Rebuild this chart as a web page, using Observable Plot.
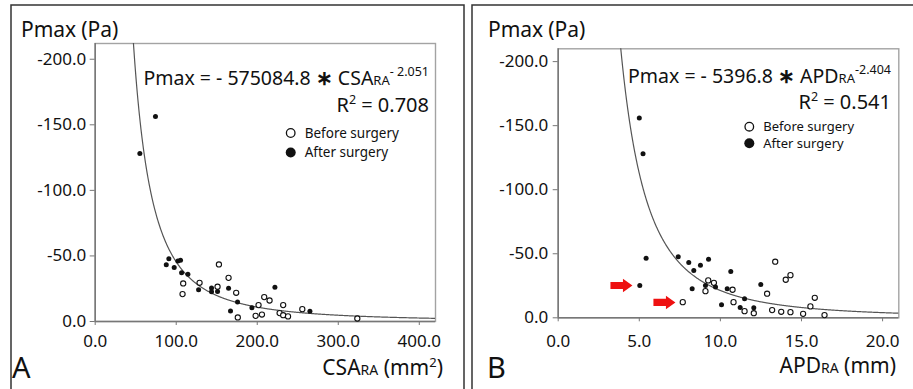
<!DOCTYPE html>
<html><head><meta charset="utf-8">
<script src="https://cdn.jsdelivr.net/npm/d3@7"></script>
<script src="https://cdn.jsdelivr.net/npm/@observablehq/plot@0.6"></script>
<style>
body{margin:0;background:#fff;}
#root{position:relative;width:913px;height:389px;overflow:hidden;background:#fff;}
#root > div{position:absolute;top:0;}
#overlay{position:absolute;left:0;top:0;pointer-events:none;}
text{font-family:"Noto Sans",sans-serif;fill:#111;}
</style></head>
<body>
<div id="root">
  <div id="pA" style="left:0"></div>
  <div id="pB" style="left:456px"></div>
  <svg id="overlay" width="913" height="389"></svg>
</div>
<script>
// ---------- Data ----------
// Panel A: CSA_RA (mm^2) vs Pmax (Pa)
const csaBefore  = [108.6,107.8,128.8,151.0,152.7,164.6,174.0,176.0,198.0,201.6,205.8,208.6,215.2,227.6,232.0,232.0,238.0,255.6,323.5];
const pmaxCsaBefore = [-29.0,-20.9,-29.5,-26.5,-43.5,-33.3,-21.9,-3.1,-4.3,-12.5,-5.3,-18.6,-16.0,-6.4,-12.5,-4.8,-3.9,-9.4,-2.3];
const csaAfter   = [55.1,74.4,87.7,90.9,97.5,102.0,105.3,106.6,114.4,127.6,143.6,143.6,151.0,164.6,167.0,175.7,193.4,221.8,265.0];
const pmaxCsaAfter = [-128.2,-156.3,-43.3,-47.8,-41.2,-46.1,-46.8,-37.2,-36.1,-24.2,-25.5,-22.7,-22.9,-25.4,-8.1,-14.8,-10.4,-26.2,-7.9];
// Panel B: APD_RA (mm) vs Pmax (Pa)
const apdBefore  = [7.68,9.08,9.25,9.60,10.75,10.81,11.49,12.06,12.88,13.19,13.38,13.75,14.03,14.32,14.32,15.10,15.55,15.82,16.42];
const pmaxApdBefore = [-12.2,-20.8,-29.2,-27.3,-21.9,-12.2,-5.2,-3.6,-18.8,-6.0,-43.8,-4.7,-29.7,-33.3,-4.4,-3.1,-8.9,-15.6,-2.1];
const apdAfter   = [5.00,5.23,5.03,5.42,7.40,8.05,8.26,8.36,8.77,9.27,9.08,9.70,10.07,10.42,10.64,11.22,11.49,12.06,12.49];
const pmaxApdAfter = [-155.9,-128.1,-25.3,-46.4,-47.7,-43.2,-22.7,-37.0,-41.1,-45.8,-25.3,-24.0,-10.2,-22.7,-36.2,-8.1,-14.8,-7.8,-26.0];
// Fitted power curves stated on the figure: Pmax = coef * x^exp
const fitCoefA = -575084.8, fitExpA = -2.051;
const fitCoefB = -5396.8,   fitExpB = -2.404;
// Red arrows in panel B (pointing at two patients)
const arrowApd  = [3.9, 6.55];
const arrowPmax = [-25.2, -12.0];
// Tick values
const yTicks  = [-200, -150, -100, -50, 0];
const xTicksA = [0, 100, 200, 300, 400];
const xTicksB = [0, 5, 10, 15, 20];

// ---------- Helpers ----------
const fmt = d => d.toFixed(1);
const pts = (xs, ys) => xs.map((x, i) => ({x, y: ys[i]}));
const blockArrow = {
  draw(ctx) {
    ctx.moveTo(-11, -3.6); ctx.lineTo(1.5, -3.6); ctx.lineTo(1.5, -6.8);
    ctx.lineTo(11, 0); ctx.lineTo(1.5, 6.8); ctx.lineTo(1.5, 3.6);
    ctx.lineTo(-11, 3.6); ctx.closePath();
  }
};

function panel({xDomain, yDomain, xTicks, before, after, curve, margins, xPad, yPad, extra = []}) {
  return Plot.plot({
    width: margins.w, height: 389,
    marginLeft: margins.l, marginRight: margins.r, marginTop: margins.t, marginBottom: margins.b,
    style: {fontFamily: "Noto Sans, sans-serif", background: "transparent"},
    x: {domain: xDomain, axis: null},
    y: {domain: yDomain, axis: null},
    marks: [
      Plot.frame({stroke: "#a3a3a3", strokeWidth: 1.4}),
      Plot.axisX({ticks: xTicks, tickFormat: fmt, tickSize: 4, tickPadding: xPad, stroke: "#777", fill: "#222", fontSize: 17, label: null}),
      Plot.axisY({ticks: yTicks, tickFormat: fmt, tickSize: 5, tickPadding: yPad, stroke: "#777", fill: "#222", fontSize: 17, label: null}),
      Plot.ruleY([0], {stroke: "#777", strokeWidth: 1.5}),
      Plot.ruleX([0], {stroke: "#777", strokeWidth: 1.5}),
      Plot.line(curve, {x: "x", y: "y", stroke: "#555", strokeWidth: 1.2, clip: true}),
      Plot.dot(before, {x: "x", y: "y", r: 2.6, stroke: "#111", strokeWidth: 1.1, fill: "white"}),
      Plot.dot(after, {x: "x", y: "y", r: 2.5, fill: "#111", stroke: "none"}),
      ...extra
    ]
  });
}

const curveXA = d3.range(40, 421, 0.5);
const curveA = curveXA.map(x => ({x, y: fitCoefA * Math.pow(x, fitExpA)}));
const curveXB = d3.range(3.5, 21.01, 0.02);
const curveB = curveXB.map(x => ({x, y: fitCoefB * Math.pow(x, fitExpB)}));

document.getElementById("pA").append(panel({
  xDomain: [0, 420], yDomain: [0, -212], xTicks: xTicksA,
  before: pts(csaBefore, pmaxCsaBefore), after: pts(csaAfter, pmaxCsaAfter), curve: curveA,
  margins: {w: 456, l: 94.7, r: 21, t: 43, b: 68}, xPad: 9, yPad: 4
}));
document.getElementById("pB").append(panel({
  xDomain: [0, 21], yDomain: [0, -210], xTicks: xTicksB,
  before: pts(apdBefore, pmaxApdBefore), after: pts(apdAfter, pmaxApdAfter), curve: curveB,
  margins: {w: 457, l: 101.7, r: 14.7, t: 48.3, b: 71.7}, xPad: 13, yPad: 5,
  extra: [Plot.dot(pts(arrowApd, arrowPmax), {x: "x", y: "y", symbol: blockArrow, r: 10, fill: "#ee1111", stroke: "none"})]
}));

// ---------- Text overlay ----------
const ov = d3.select("#overlay");
ov.append("rect").attr("x", 11).attr("y", 5).attr("width", 453).attr("height", 420)
  .attr("fill", "none").attr("stroke", "#333").attr("stroke-width", 1.5);
ov.append("rect").attr("x", 472).attr("y", 5).attr("width", 460).attr("height", 420)
  .attr("fill", "none").attr("stroke", "#333").attr("stroke-width", 1.5);

function yLabel(x) {
  const t = ov.append("text").attr("x", x).attr("y", 37).attr("font-size", 21);
  t.append("tspan").text("Pmax");
  t.append("tspan").attr("dx", 5).text("(Pa)");
}
function equation(xEnd, y, coefText, varName, expText) {
  const t = ov.append("text").attr("x", xEnd).attr("y", y).attr("text-anchor", "end").attr("font-size", 19.5);
  t.append("tspan").text("Pmax = - " + coefText + " ");
  t.append("tspan").attr("font-weight", "bold").text("\u2217");
  t.append("tspan").text(" " + varName);
  t.append("tspan").attr("font-size", 13).text("RA");
  t.append("tspan").attr("font-size", 12.5).attr("dy", -9).text(expText);
}
function r2(xEnd, y, val) {
  const t = ov.append("text").attr("x", xEnd).attr("y", y).attr("text-anchor", "end").attr("font-size", 20);
  t.append("tspan").text("R");
  t.append("tspan").attr("font-size", 12.5).attr("dy", -8).text("2");
  t.append("tspan").attr("dy", 8).text(" = " + val);
}
function legend(cx, y1, y2, fs) {
  ov.append("circle").attr("cx", cx).attr("cy", y1).attr("r", 4.3).attr("fill", "white").attr("stroke", "#111").attr("stroke-width", 1.3);
  ov.append("circle").attr("cx", cx).attr("cy", y2).attr("r", 5).attr("fill", "#111");
  ov.append("text").attr("x", cx + 14).attr("y", y1 + 4.5).attr("font-size", fs).text("Before surgery");
  ov.append("text").attr("x", cx + 14).attr("y", y2 + 4.5).attr("font-size", fs).text("After surgery");
}
function xLabel(xEnd, y, name, unit, sup) {
  const t = ov.append("text").attr("x", xEnd).attr("y", y).attr("text-anchor", "end").attr("font-size", 21);
  t.append("tspan").text(name);
  t.append("tspan").attr("font-size", 14).text("RA");
  t.append("tspan").text(" (" + unit);
  if (sup) {
    t.append("tspan").attr("font-size", 13).attr("dy", -8).text(sup);
    t.append("tspan").attr("dy", 8).text(")");
  } else t.append("tspan").text(")");
}

// Panel A
yLabel(21);
equation(429, 85, "575084.8", "CSA", "- 2.051");
r2(429, 112, "0.708");
legend(290.7, 133, 152.5, 13.5);
ov.append("text").attr("x", 12).attr("y", 378).attr("font-size", 29).text("A");
xLabel(443, 375, "CSA", "mm", "2");

// Panel B
yLabel(488);
equation(891, 83, "5396.8", "APD", "-2.404");
r2(891, 109, "0.541");
legend(749.3, 126.7, 143.2, 13);
ov.append("text").attr("x", 487).attr("y", 378).attr("font-size", 29).text("B");
xLabel(896, 373, "APD", "mm", null);
</script>
</body></html>
